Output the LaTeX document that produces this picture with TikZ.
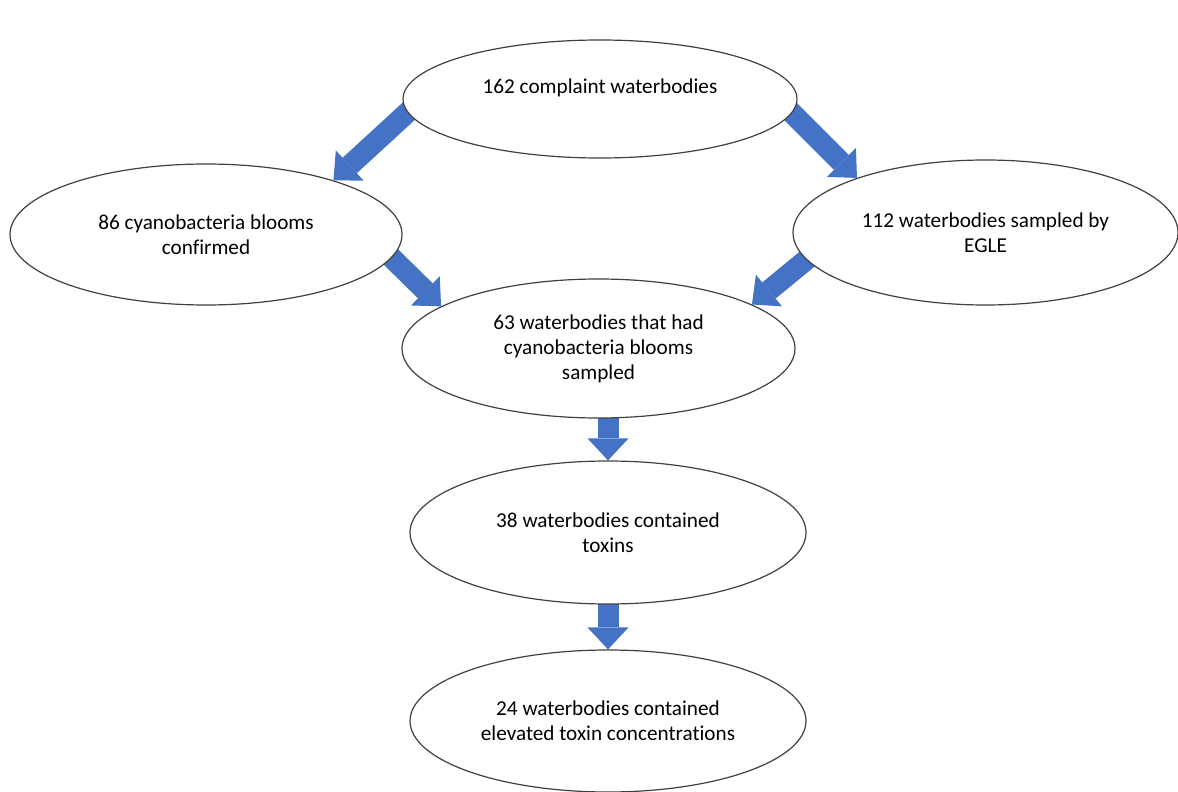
\documentclass[tikz,border=0pt]{standalone}
\usepackage{fontspec}
\setmainfont{Carlito}[Ligatures={NoCommon}]
\usetikzlibrary{arrows.meta, shapes.geometric, backgrounds}

\definecolor{flowblue}{HTML}{4472C4}

\tikzset{
  bubble/.style={ellipse, draw=black!75, line width=0.6pt, fill=white, inner sep=0pt,
    align=center, font=\fontsize{10.6}{12.5}\selectfont},
  bigarrow/.style={draw=flowblue, line width=10.5pt,
    -{Triangle[length=11pt, width=20.5pt, line width=0pt]}},
}

\begin{document}
\begin{tikzpicture}[x=0.5pt, y=-0.5pt]
  \useasboundingbox (0,0) rectangle (1178,792);

  % ellipses
  \node[bubble, minimum width=197pt, minimum height=59pt, text height=7.5pt, text depth=13.3pt]
    (complaints) at (600,99) {162 complaint waterbodies};
  \node[bubble, minimum width=196pt, minimum height=70.5pt]
    (confirmed) at (206,234.5) {86 cyanobacteria blooms\\confirmed};
  \node[bubble, minimum width=192.5pt, minimum height=72.5pt]
    (sampled) at (985.5,232.5) {112 waterbodies sampled by\\EGLE};
  \node[bubble, minimum width=196.5pt, minimum height=69.5pt]
    (bloomsampled) at (598.5,348.5) {63 waterbodies that had\\cyanobacteria blooms\\sampled};
  \node[bubble, minimum width=198pt, minimum height=71.5pt]
    (toxins) at (608,532.5) {38 waterbodies contained\\toxins};
  \node[bubble, minimum width=198pt, minimum height=71pt]
    (elevated) at (608,721) {24 waterbodies contained\\elevated toxin concentrations};

  % block arrows, tails hidden under the ellipses
  \begin{scope}[on background layer]
    \draw[bigarrow] ([shift={(86,-79)}]confirmed.23.5) -- (confirmed.23.5);
    \draw[bigarrow] ([shift={(-80,-80)}]sampled.157.9) -- (sampled.157.9);
    \draw[bigarrow] ([shift={(-60,-59)}]bloomsampled.165.8) -- (bloomsampled.165.8);
    \draw[bigarrow] ([shift={(62,-51)}]bloomsampled.16) -- (bloomsampled.16);
    \draw[bigarrow] (bloomsampled.center -| toxins.north) -- (toxins.north);
    \draw[bigarrow] (toxins.center) -- (elevated.north);
  \end{scope}
\end{tikzpicture}
\end{document}
